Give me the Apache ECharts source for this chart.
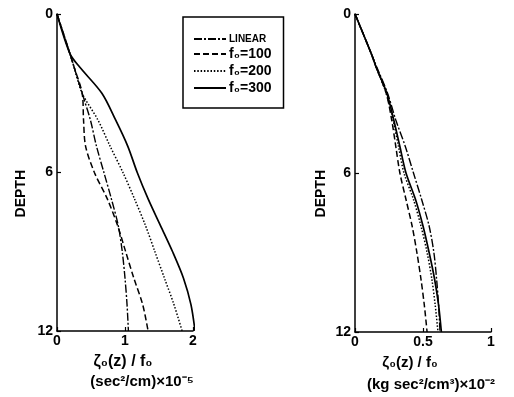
<!DOCTYPE html>
<html>
<head>
<meta charset="utf-8">
<script src="https://cdn.jsdelivr.net/npm/echarts@6/dist/echarts.min.js"></script>
<style>
  html, body { margin: 0; padding: 0; background: #fff; }
  #chart { width: 514px; height: 397px; }
</style>
</head>
<body>
<div id="chart"></div>
<script>
// depth samples shared by every curve
const depths = [0, 1.5, 2, 3, 4, 5, 6, 7, 8, 9, 10, 11, 12];

// left panel: zeta(z)/f0, (sec^2/cm) x 10^-5
const leftLinear = [0, 0.19, 0.25, 0.37, 0.49, 0.58, 0.69, 0.80, 0.90, 0.96, 1.00, 1.03, 1.05];
const left100    = [0, 0.19, 0.25, 0.37, 0.39, 0.42, 0.55, 0.74, 0.89, 1.01, 1.13, 1.26, 1.34];
const left200    = [0, 0.19, 0.25, 0.37, 0.60, 0.78, 0.97, 1.14, 1.30, 1.44, 1.58, 1.72, 1.84];
const left300    = [0, 0.19, 0.33, 0.66, 0.86, 1.04, 1.18, 1.34, 1.52, 1.70, 1.86, 1.97, 2.03];

// right panel: (kg sec^2/cm^3) x 10^-2
const rightLinear = [0, 0.12, 0.16, 0.24, 0.30, 0.37, 0.43, 0.49, 0.545, 0.58, 0.60, 0.615, 0.625];
const right100    = [0, 0.12, 0.155, 0.23, 0.27, 0.30, 0.33, 0.375, 0.42, 0.455, 0.485, 0.51, 0.53];
const right200    = [0, 0.12, 0.155, 0.23, 0.28, 0.32, 0.36, 0.43, 0.485, 0.53, 0.565, 0.59, 0.61];
const right300    = [0, 0.12, 0.155, 0.235, 0.285, 0.33, 0.375, 0.445, 0.50, 0.545, 0.585, 0.615, 0.635];

const seriesNames = ['LINEAR', 'f₀=100', 'f₀=200', 'f₀=300'];
const depthTicks = [0, 6, 12];

const font = 'Liberation Sans';
const lineStyles = [
    { type: [8, 2, 2, 2], width: 1.4 },
    { type: [6, 3], width: 1.5 },
    { type: [1.5, 1.8], width: 1.5 },
    { type: 'solid', width: 1.7 }
];

function pairs(xs) {
    return xs.map((x, i) => [x, depths[i]]);
}

function makeSeries(values, axisIndex) {
    return values.map((v, k) => ({
        name: seriesNames[k],
        type: 'line',
        xAxisIndex: axisIndex,
        yAxisIndex: axisIndex,
        data: pairs(v),
        smooth: 0.3,
        symbol: 'none',
        color: '#000',
        lineStyle: Object.assign({ color: '#000' }, lineStyles[k])
    }));
}

const axisCommon = {
    axisLine: { onZero: false, lineStyle: { color: '#000', width: 1.5 } },
    axisTick: { inside: true, length: 4, lineStyle: { color: '#000', width: 1.2 } },
    splitLine: { show: false },
    axisLabel: { color: '#000', fontFamily: font, fontWeight: 'bold', fontSize: 14 }
};

function xAxisFor(gridIndex, max, interval) {
    return Object.assign({}, axisCommon, {
        type: 'value',
        gridIndex: gridIndex,
        position: 'bottom',
        min: 0,
        max: max,
        interval: interval,
        axisLabel: Object.assign({}, axisCommon.axisLabel, { margin: 3 })
    });
}

function yAxisFor(gridIndex) {
    return Object.assign({}, axisCommon, {
        type: 'value',
        gridIndex: gridIndex,
        position: 'left',
        inverse: true,
        min: 0,
        max: 12,
        interval: 6,
        axisLabel: Object.assign({}, axisCommon.axisLabel, {
            margin: 4,
            formatter: v => depthTicks.includes(v) ? String(v) : ''
        })
    });
}

const chart = echarts.init(document.getElementById('chart'));
chart.setOption({
    backgroundColor: '#fff',
    animation: false,
    grid: [
        { left: 57, top: 14, width: 136, height: 317 },
        { left: 355, top: 14, width: 136, height: 318 }
    ],
    xAxis: [xAxisFor(0, 2, 1), xAxisFor(1, 1, 0.5)],
    yAxis: [yAxisFor(0), yAxisFor(1)],
    legend: {
        data: seriesNames,
        orient: 'vertical',
        left: 183,
        top: 17,
        padding: [17, 12, 13, 10],
        itemGap: 3,
        itemWidth: 32,
        itemHeight: 12,
        borderColor: '#000',
        borderWidth: 1.5,
        borderRadius: 0,
        selectedMode: false,
        itemStyle: { opacity: 0 },
        formatter: name => name === 'LINEAR' ? '{s|LINEAR}' : '{b|' + name + '}',
        textStyle: {
            color: '#000',
            padding: [0, 0, 0, -2],
            rich: {
                s: { fontFamily: font, fontWeight: 'bold', fontSize: 10, color: '#000' },
                b: { fontFamily: font, fontWeight: 'bold', fontSize: 14, color: '#000' }
            }
        }
    },
    graphic: [
        { type: 'text', left: 14, top: 170, rotation: Math.PI / 2,
          style: { text: 'DEPTH', font: 'bold 14px ' + font, fill: '#000' } },
        { type: 'text', left: 314, top: 170, rotation: Math.PI / 2,
          style: { text: 'DEPTH', font: 'bold 14px ' + font, fill: '#000' } },
        { type: 'text', x: 123, y: 362,
          style: { text: 'ζ₀(z) / f₀', font: 'bold 16px ' + font, fill: '#000', align: 'center', verticalAlign: 'middle' } },
        { type: 'text', x: 142, y: 382,
          style: { text: '(sec²/cm)×10⁻⁵', font: 'bold 15px ' + font, fill: '#000', align: 'center', verticalAlign: 'middle' } },
        { type: 'text', x: 410, y: 363,
          style: { text: 'ζ₀(z) / f₀', font: 'bold 15px ' + font, fill: '#000', align: 'center', verticalAlign: 'middle' } },
        { type: 'text', x: 431, y: 385,
          style: { text: '(kg sec²/cm³)×10⁻²', font: 'bold 15px ' + font, fill: '#000', align: 'center', verticalAlign: 'middle' } }
    ],
    series: makeSeries([leftLinear, left100, left200, left300], 0)
        .concat(makeSeries([rightLinear, right100, right200, right300], 1))
});

window.addEventListener('resize', () => chart.resize());
</script>
</body>
</html>
